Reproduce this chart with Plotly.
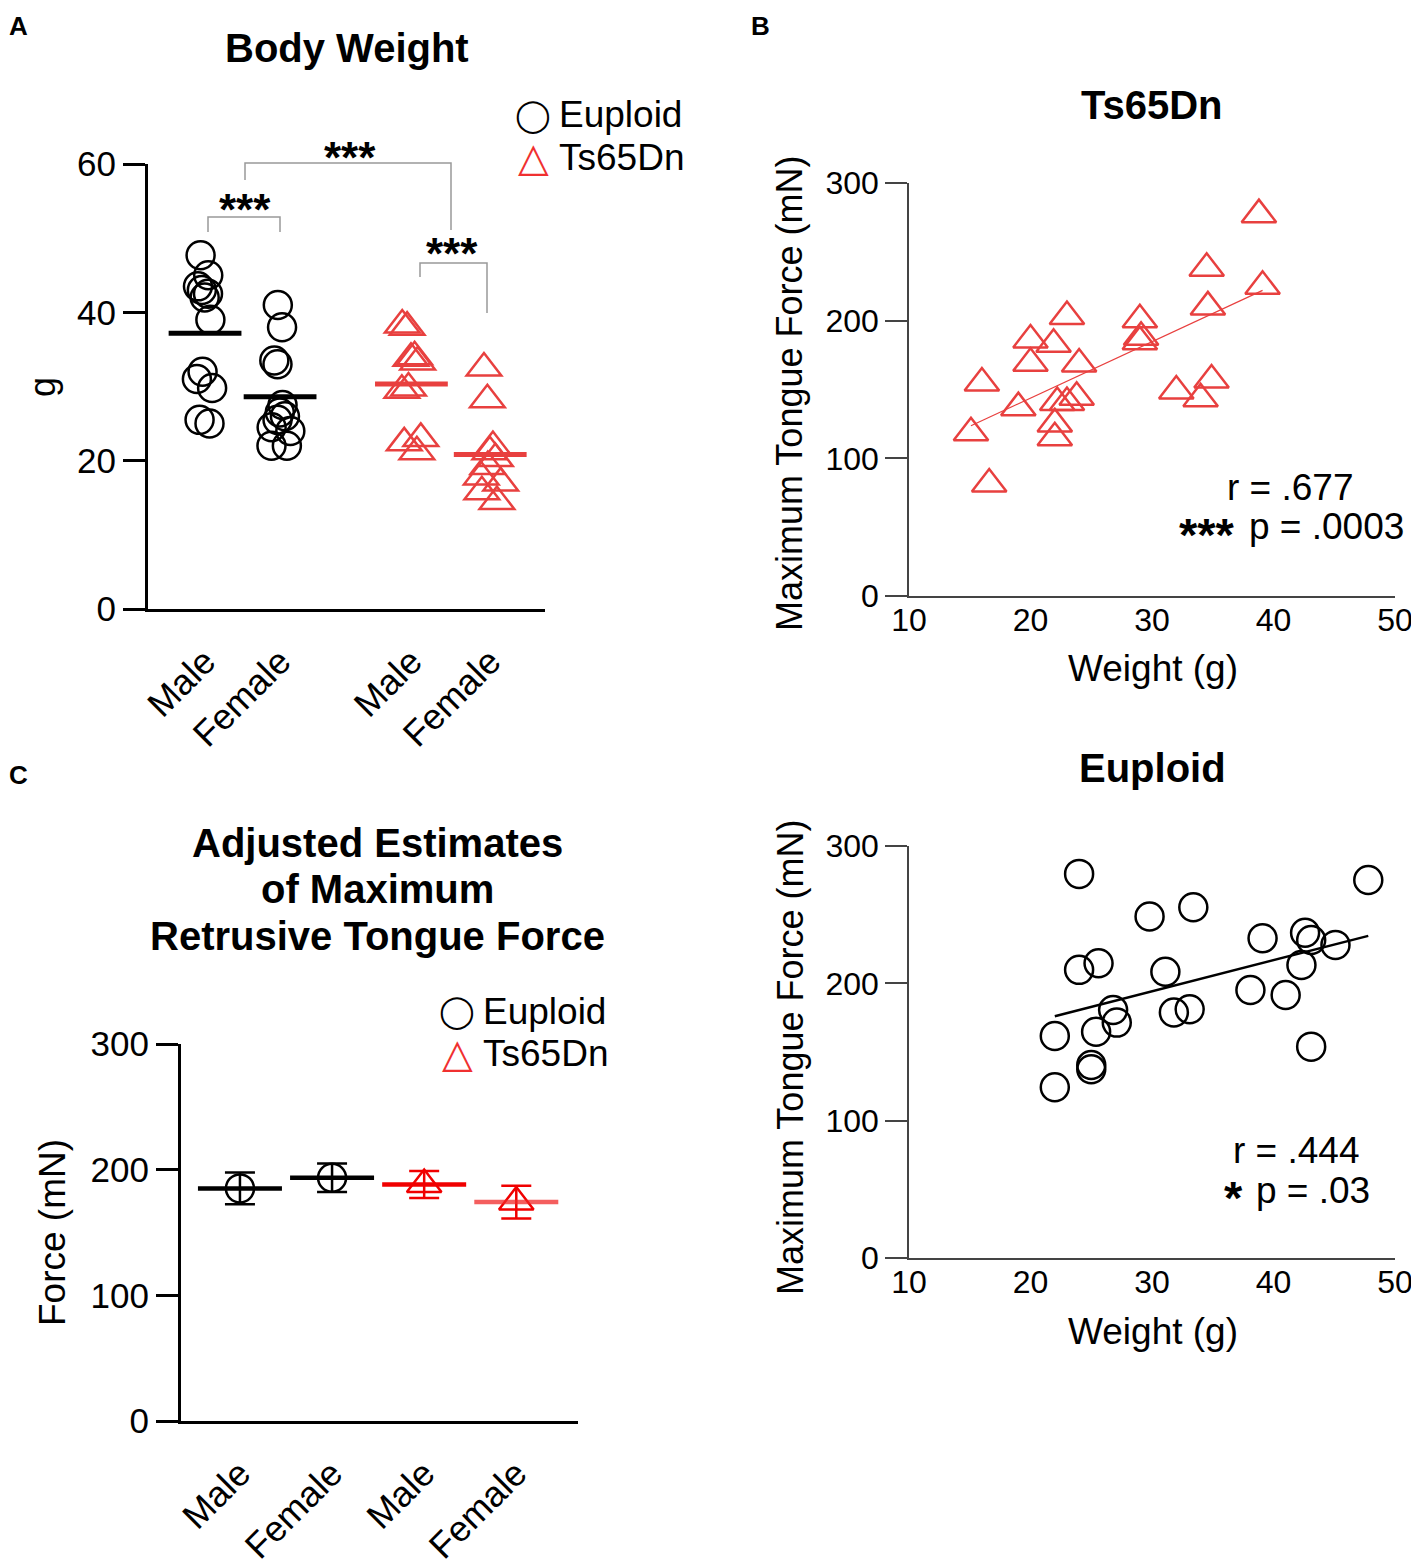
import numpy as np
import plotly.graph_objects as go

# Panel A - body weight (g), one list per group
groups_a = ["Male", "Female", "Male", "Female"]
eu_male_wt = [47.7, 45.0, 43.5, 43.0, 42.5, 42.0, 39.0, 32.0, 31.0, 29.8, 25.5, 25.0]
eu_female_wt = [41.0, 38.0, 33.5, 33.0, 27.5, 26.5, 26.0, 25.5, 24.5, 24.0, 22.0, 22.0]
ts_male_wt = [38.3, 38.0, 34.0, 33.8, 33.3, 29.8, 29.5, 23.0, 22.4, 21.2]
ts_female_wt = [32.5, 28.2, 21.9, 21.2, 20.3, 19.2, 17.8, 17.0, 15.8, 14.5]

# Panel B - weight vs maximum tongue force
ts_weight = [38.8, 34.5, 39.1, 34.6, 23.0, 29.0, 29.0, 29.1, 20.0, 21.9, 20.0, 24.0,
             16.0, 19.0, 22.2, 23.0, 23.8, 22.0, 22.0, 15.1, 16.6, 32.0, 34.9, 34.0]
ts_force = [277, 238, 225, 210, 203, 200.6, 184.7, 188, 186, 182.8, 169, 168.5,
            154.7, 136.8, 140.6, 140.6, 144.3, 125, 115, 118.6, 81.3, 148.9, 156.9, 143.3]
eu_weight = [24.0, 47.8, 29.8, 33.4, 39.1, 42.6, 43.1, 45.1, 42.3, 24.0, 25.6, 31.1,
             38.1, 41.0, 26.8, 27.1, 31.8, 33.1, 25.4, 22.0, 43.1, 25.0, 25.0, 22.0]
eu_force = [279.7, 275.3, 248.6, 255.4, 232.8, 236.9, 231.6, 228, 213.4, 209.8, 214.6, 208.5,
            195.2, 191.5, 180.6, 171.4, 178.7, 181.1, 164.8, 161.7, 153.9, 140.6, 137.4, 124.3]

# Panel C - adjusted estimates of max retrusive tongue force (mN)
groups_c = ["Male", "Female", "Male", "Female"]
est_mean = [185.1, 193.6, 188.2, 174.2]
est_sem = [12.6, 11.3, 10.7, 13.0]

W, H = 1419, 1567
OFF = 8  # page margin the browser adds around the plot div
FONT = "Liberation Sans, Arial, sans-serif"
RED = "#e8403f"
RED_C = "#f00000"
BLACK = "#000000"


def px(x, y):
    # page pixel position -> paper coords
    return (x - OFF) / W, 1 - (y - OFF) / H


fig = go.Figure()

# ---- Panel A: strip plot with mean bars ----
pos_a = [1, 2, 3.75, 4.8]
sets_a = [(eu_male_wt, "circle-open", 28, BLACK),
          (eu_female_wt, "circle-open", 28, BLACK),
          (ts_male_wt, "triangle-up-open", 30, RED),
          (ts_female_wt, "triangle-up-open", 30, RED)]
for p, (vals, sym, sz, col) in zip(pos_a, sets_a):
    fig.add_trace(go.Box(
        y=vals, x0=p, width=0.6, boxpoints="all", jitter=0.6, pointpos=0,
        fillcolor="rgba(0,0,0,0)", line=dict(color="rgba(0,0,0,0)", width=0),
        marker=dict(symbol=sym, size=sz, color=col, line=dict(width=2.5, color=col)),
        xaxis="x", yaxis="y", showlegend=False))
    fig.add_trace(go.Scatter(
        x=[p], y=[np.mean(vals)], mode="markers",
        marker=dict(symbol="line-ew", size=52, color=col, line=dict(width=5, color=col)),
        xaxis="x", yaxis="y", showlegend=False))

# ---- Panel B: scatter + fitted lines ----
for wt, fc, sym, sz, col, ax, lw in [(ts_weight, ts_force, "triangle-up-open", 30, RED, "2", 1.2),
                                      (eu_weight, eu_force, "circle-open", 28, BLACK, "3", 2.5)]:
    wt = np.array(wt)
    fc = np.array(fc)
    slope, icpt = np.polyfit(wt, fc, 1)
    xs = np.array([wt.min(), wt.max()])
    fig.add_trace(go.Scatter(
        x=wt, y=fc, mode="markers",
        marker=dict(symbol=sym, size=sz, color=col, line=dict(width=2.5, color=col)),
        xaxis="x" + ax, yaxis="y" + ax, showlegend=False))
    fig.add_trace(go.Scatter(
        x=xs, y=slope * xs + icpt, mode="lines", line=dict(color=col, width=lw),
        xaxis="x" + ax, yaxis="y" + ax, showlegend=False))

# ---- Panel C: estimates with error bars ----
sets_c = [("circle-open", 28, BLACK, BLACK), ("circle-open", 28, BLACK, BLACK),
          ("triangle-up-open", 30, RED_C, RED_C), ("triangle-up-open", 30, RED_C, "rgba(240,40,40,0.75)")]
for i, (sym, sz, col, mcol) in enumerate(sets_c):
    fig.add_trace(go.Scatter(
        x=[i + 1], y=[est_mean[i]], mode="markers",
        error_y=dict(type="data", array=[est_sem[i]], thickness=2.5, width=15, color=col),
        marker=dict(symbol=sym, size=sz, color=col, line=dict(width=2.5, color=col)),
        xaxis="x4", yaxis="y4", showlegend=False))
    fig.add_trace(go.Scatter(
        x=[i + 1], y=[est_mean[i]], mode="markers",
        marker=dict(symbol="line-ew", size=60, color=mcol, line=dict(width=4.5, color=mcol)),
        xaxis="x4", yaxis="y4", showlegend=False))

# axes
thick = dict(showline=True, linecolor=BLACK, linewidth=3, showgrid=False, zeroline=False,
             automargin=False, tickfont=dict(family=FONT, size=35, color=BLACK))
thin = dict(showline=True, linecolor="#444444", linewidth=1.5, showgrid=False, zeroline=False,
            automargin=False, tickfont=dict(family=FONT, size=32, color=BLACK))
cat_font = dict(family=FONT, size=36, color=BLACK)

xa0, ya0 = px(148, 609)
xa1, ya1 = px(545, 164)
xb0, yb0 = px(909, 596)
xb1, yb1 = px(1395, 183)
_, yc0 = px(0, 1258)
_, yc1 = px(0, 846)
xd0, yd0 = px(181, 1421)
xd1, yd1 = px(578, 1044)

fig.update_layout(
    width=W, height=H, margin=dict(l=0, r=0, t=0, b=0, pad=0), autosize=False,
    paper_bgcolor="white", plot_bgcolor="white",
    font=dict(family=FONT, color=BLACK),
    boxmode="overlay",
    xaxis=dict(domain=[xa0, xa1], range=[0.24, 5.53], tickvals=pos_a, ticktext=groups_a,
               tickangle=-45, ticks="", ticklabelstandoff=14, anchor="y",
               **{**thick, "tickfont": cat_font}),
    yaxis=dict(domain=[ya0, ya1], range=[0, 60], dtick=20, ticks="outside", ticklen=22,
               tickwidth=3, tickcolor=BLACK, anchor="x", **thick),
    xaxis2=dict(domain=[xb0, xb1], range=[10, 50], dtick=10, ticks="", ticklabelstandoff=-5,
                anchor="y2", **thin),
    yaxis2=dict(domain=[yb0, yb1], range=[0, 300], dtick=100, ticks="outside", ticklen=22,
                tickwidth=1.5, tickcolor="#444444", anchor="x2", **thin),
    xaxis3=dict(domain=[xb0, xb1], range=[10, 50], dtick=10, ticks="", ticklabelstandoff=-5,
                anchor="y3", **thin),
    yaxis3=dict(domain=[yc0, yc1], range=[0, 300], dtick=100, ticks="outside", ticklen=22,
                tickwidth=1.5, tickcolor="#444444", anchor="x3", **thin),
    xaxis4=dict(domain=[xd0, xd1], range=[0.36, 4.67], tickvals=[1, 2, 3, 4], ticktext=groups_c,
                tickangle=-45, ticks="", ticklabelstandoff=14, anchor="y4",
                **{**thick, "tickfont": cat_font}),
    yaxis4=dict(domain=[yd0, yd1], range=[0, 300], dtick=100, ticks="outside", ticklen=22,
                tickwidth=3, tickcolor=BLACK, anchor="x4", **thick),
)

# significance brackets in panel A (page pixels: left x, right x, left foot, top, right foot)
brackets = [(208, 280, 232, 217, 232), (245, 451, 180, 163, 230), (420, 487, 277, 263, 313)]
for xl, xr, yl, ytop, yr in brackets:
    x0, y0 = px(xl, yl)
    x1, y1 = px(xr, ytop)
    _, y2 = px(0, yr)
    fig.add_shape(type="path", xref="paper", yref="paper",
                  path=f"M {x0},{y0} L {x0},{y1} L {x1},{y1} L {x1},{y2}",
                  line=dict(color="#999999", width=1.5))

annos = []


def add_text(text, x, y, size, bold=False, angle=0, xanchor="center", color=BLACK, family=FONT):
    ax, ay = px(x, y)
    annos.append(dict(text=f"<b>{text}</b>" if bold else text, x=ax, y=ay, xref="paper", yref="paper",
                      showarrow=False, xanchor=xanchor, yanchor="middle", textangle=angle,
                      font=dict(family=family, size=size, color=color)))


# panel letters and titles
add_text("A", 18, 26, 26, bold=True)
add_text("B", 760, 26, 26, bold=True)
add_text("C", 18, 775, 26, bold=True)
add_text("Body Weight", 347, 48, 40, bold=True)
add_text("Ts65Dn", 1152, 105, 40, bold=True)
add_text("Euploid", 1152, 768, 40, bold=True)
for line, ly in zip(["Adjusted Estimates", "of Maximum", "Retrusive Tongue Force"], [843, 889, 936]):
    add_text(line, 378, ly, 40, bold=True)

# asterisks over brackets
add_text("***", 245, 210, 44, bold=True)
add_text("***", 350, 157, 44, bold=True)
add_text("***", 452, 254, 44, bold=True)

# legends
for lx, ly in [(533, 115), (457, 1011)]:
    add_text("◯", lx, ly, 32, family="DejaVu Sans")
    add_text("Euploid", lx + 24, ly, 37, xanchor="left")
    add_text("△", lx, ly + 42, 40, color="#f03030")
    add_text("Ts65Dn", lx + 24, ly + 42, 37, xanchor="left")

# axis titles
add_text("g", 42, 387, 36, angle=-90)
add_text("Maximum Tongue Force (mN)", 790, 393, 36, angle=-90)
add_text("Maximum Tongue Force (mN)", 790, 1057, 36, angle=-90)
add_text("Force (mN)", 52, 1233, 37, angle=-90)
add_text("Weight (g)", 1153, 668, 37)
add_text("Weight (g)", 1153, 1331, 37)

# correlation stats
add_text("r = .677", 1290, 487, 37)
add_text("p = .0003", 1326, 527, 37)
add_text("***", 1207, 534, 47, bold=True)
add_text("r = .444", 1296, 1150, 37)
add_text("p = .03", 1313, 1190, 37)
add_text("*", 1233, 1197, 47, bold=True)

fig.update_layout(annotations=annos)

fig.write_html("out.html")
